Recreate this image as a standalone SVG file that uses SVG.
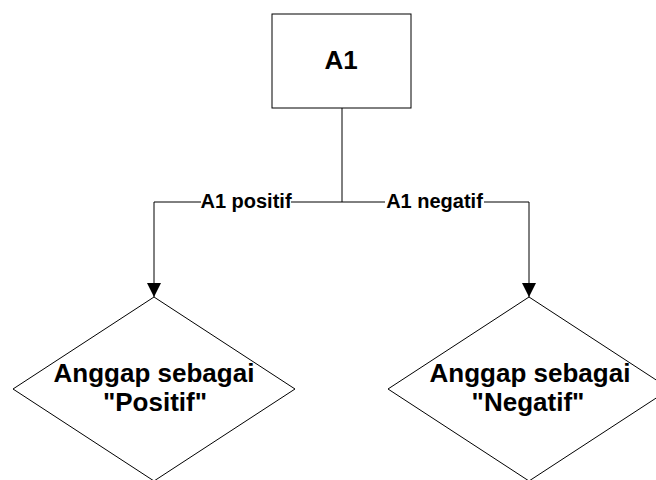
<svg xmlns="http://www.w3.org/2000/svg" width="656" height="480" viewBox="0 0 656 480">
<defs>
<style>
.shape{fill:#fff;stroke:#000;stroke-width:1}
.conn{fill:none;stroke:#000;stroke-width:1}
.t{font-family:"Liberation Sans",Arial,sans-serif;font-weight:bold;fill:#000;text-anchor:middle}
.lbl{font-size:20px}
.big{font-size:26px}
</style>
<marker id="arr" markerWidth="14" markerHeight="15" refX="14" refY="7" orient="auto" markerUnits="userSpaceOnUse">
<path d="M0,0 L14,7 L0,14 Z" fill="#000"/>
</marker>
</defs>
<g id="connectors">
<path class="conn" d="M342,108 V202"/>
<path class="conn" d="M342,202 H154 V297" marker-end="url(#arr)"/>
<path class="conn" d="M342,202 H529 V297" marker-end="url(#arr)"/>
<rect x="201" y="192" width="90" height="20" fill="#fff"/>
<rect x="385" y="192" width="99" height="20" fill="#fff"/>
<text class="t lbl" x="246" y="208">A1 positif</text>
<text class="t lbl" x="434.5" y="208">A1 negatif</text>
</g>
<g id="nodeA1">
<rect class="shape" x="272" y="14" width="139" height="94"/>
<text class="t big" x="341" y="69">A1</text>
</g>
<g id="nodePositif">
<polygon class="shape" points="154,297 295,389 154,481 13,389"/>
<text class="t big" x="154" y="382">Anggap sebagai</text>
<text class="t big" x="155" y="411">"Positif"</text>
</g>
<g id="nodeNegatif">
<polygon class="shape" points="529,297 670,389 529,481 388,389"/>
<text class="t big" x="530" y="382">Anggap sebagai</text>
<text class="t big" x="528" y="411">"Negatif"</text>
</g>
</svg>
